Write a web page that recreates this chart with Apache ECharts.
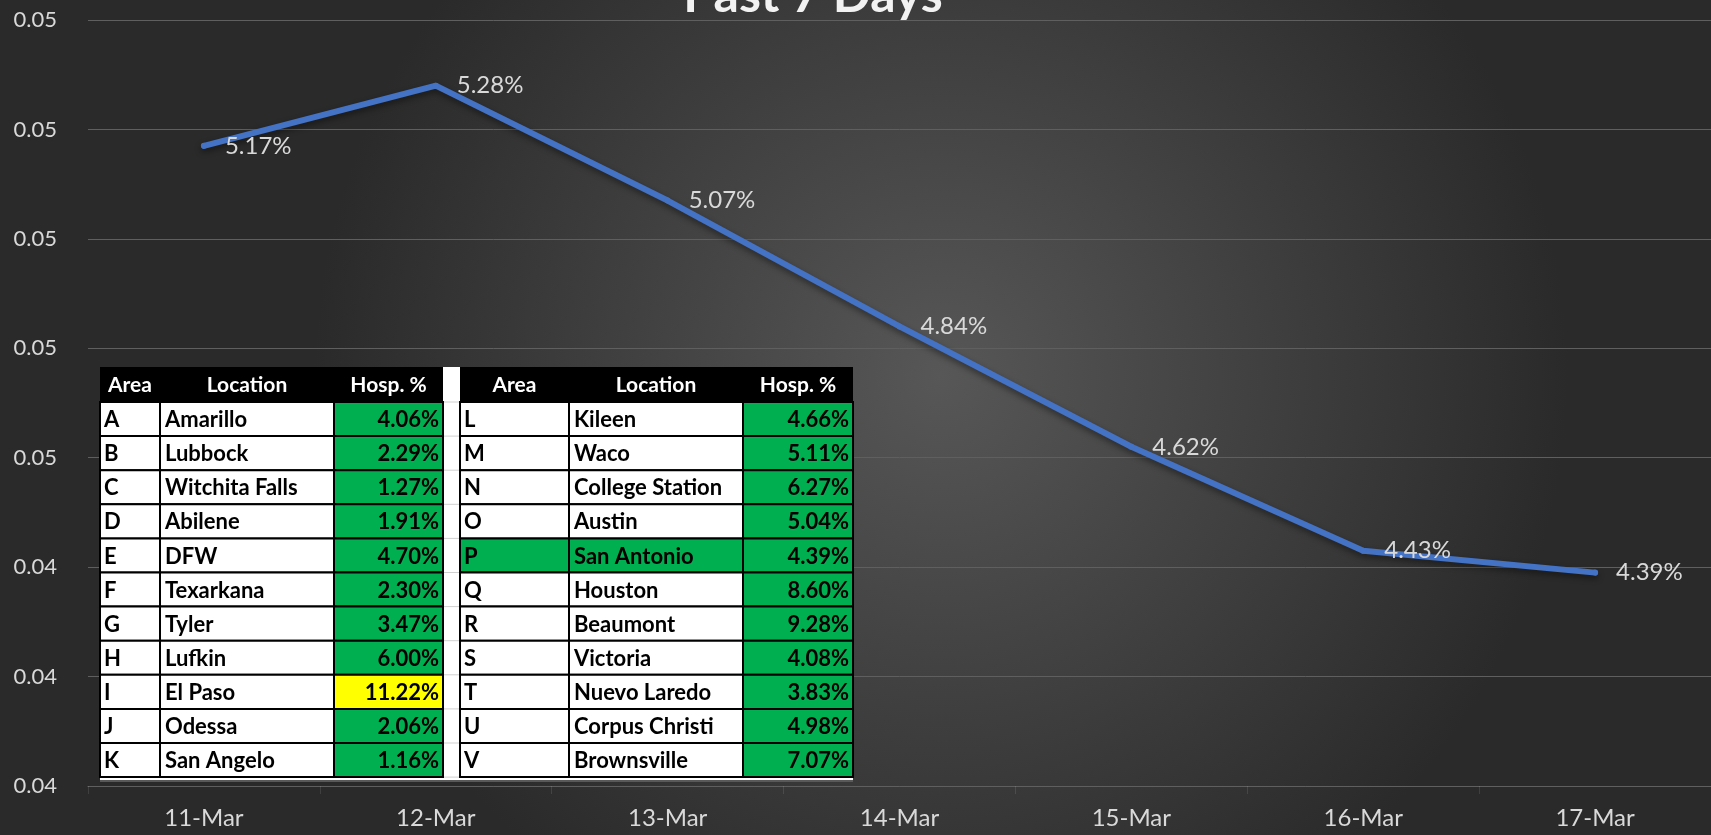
<!DOCTYPE html>
<html>
<head>
<meta charset="utf-8">
<script src="https://cdn.jsdelivr.net/npm/echarts@6/dist/echarts.min.js"></script>
<style>
html, body { margin: 0; padding: 0; background: #2a2a2a; }
#main { width: 1711px; height: 835px; }
</style>
</head>
<body>
<div id="main"></div>
<script>
// chart data
const days = ['11-Mar', '12-Mar', '13-Mar', '14-Mar', '15-Mar', '16-Mar', '17-Mar'];
const hospRate = [0.0517, 0.0528, 0.0507, 0.0484, 0.0462, 0.0443, 0.0439];
const yMin = 0.04, yMax = 0.054, yStep = 0.002;

// table data
const tableHeader = ['Area', 'Location', 'Hosp. %'];
const leftAreas = ['A', 'B', 'C', 'D', 'E', 'F', 'G', 'H', 'I', 'J', 'K'];
const leftLocations = ['Amarillo', 'Lubbock', 'Witchita Falls', 'Abilene', 'DFW', 'Texarkana', 'Tyler', 'Lufkin', 'El Paso', 'Odessa', 'San Angelo'];
const leftPct = [4.06, 2.29, 1.27, 1.91, 4.70, 2.30, 3.47, 6.00, 11.22, 2.06, 1.16];
const rightAreas = ['L', 'M', 'N', 'O', 'P', 'Q', 'R', 'S', 'T', 'U', 'V'];
const rightLocations = ['Kileen', 'Waco', 'College Station', 'Austin', 'San Antonio', 'Houston', 'Beaumont', 'Victoria', 'Nuevo Laredo', 'Corpus Christi', 'Brownsville'];
const rightPct = [4.66, 5.11, 6.27, 5.04, 4.39, 8.60, 9.28, 4.08, 3.83, 4.98, 7.07];
const highlightLocation = 'San Antonio';
const alertLevel = 10;

const FONT = 'Lato, "Liberation Sans", sans-serif';
const GREEN = '#00B050';
const YELLOW = '#FFFF00';

// table layout
const tTop = 367, headH = 35, rowH = 34.1;

function buildTable(x0, widths, areas, locs, pcts) {
  const els = [];
  const xs = [x0, x0 + widths[0], x0 + widths[0] + widths[1]];
  const total = widths[0] + widths[1] + widths[2];
  els.push({ type: 'rect', shape: { x: x0, y: tTop, width: total, height: headH }, style: { fill: '#000' } });
  tableHeader.forEach((h, i) => {
    els.push({ type: 'text', style: { text: h, x: xs[i] + widths[i] / 2, y: tTop + headH / 2 + 1, align: 'center', verticalAlign: 'middle', fill: '#fff', font: 'bold 21px ' + FONT } });
  });
  areas.forEach((a, r) => {
    const y = tTop + headH + r * rowH;
    const hl = locs[r] === highlightLocation;
    const fills = [hl ? GREEN : '#fff', hl ? GREEN : '#fff', pcts[r] >= alertLevel ? YELLOW : GREEN];
    for (let c = 0; c < 3; c++) {
      els.push({ type: 'rect', shape: { x: xs[c], y: y, width: widths[c], height: rowH }, style: { fill: fills[c], stroke: '#000', lineWidth: 2 } });
    }
    const ty = y + rowH / 2 + 1;
    const f = 'bold 22px ' + FONT;
    els.push({ type: 'text', style: { text: a, x: xs[0] + 4, y: ty, align: 'left', verticalAlign: 'middle', fill: '#000', font: f } });
    els.push({ type: 'text', style: { text: locs[r], x: xs[1] + 5, y: ty, align: 'left', verticalAlign: 'middle', fill: '#000', font: f } });
    els.push({ type: 'text', style: { text: pcts[r].toFixed(2) + '%', x: xs[2] + widths[2] - 4, y: ty, align: 'right', verticalAlign: 'middle', fill: '#000', font: f } });
  });
  return els;
}

const tableEls = [];
// white sheet behind both tables
tableEls.push({ type: 'rect', shape: { x: 100, y: tTop, width: 753, height: headH + rowH * 11 + 5 }, style: { fill: '#fff' } });
for (let r = 0; r <= 11; r++) {
  const y = tTop + headH + r * rowH;
  tableEls.push({ type: 'line', shape: { x1: 443, y1: y, x2: 460, y2: y }, style: { stroke: '#cfcfcf', lineWidth: 1 } });
}
tableEls.push(...buildTable(100, [60, 174, 109], leftAreas, leftLocations, leftPct));
tableEls.push(...buildTable(460, [109, 174, 110], rightAreas, rightLocations, rightPct));
tableEls.push({ type: 'line', shape: { x1: 100, y1: tTop + headH + rowH * 11 + 4, x2: 853, y2: tTop + headH + rowH * 11 + 4 }, style: { stroke: '#222', lineWidth: 1.5 } });

const chart = echarts.init(document.getElementById('main'));
chart.setOption({
  backgroundColor: {
    type: 'radial', x: 0.55, y: 0.45, r: 0.75,
    colorStops: [{ offset: 0, color: '#575757' }, { offset: 1, color: '#2a2a2a' }]
  },
  title: {
    text: 'Past 7 Days',
    left: 808, top: -34, textAlign: 'center',
    textStyle: { color: '#f2f2f2', fontSize: 50, fontWeight: 'bold', fontFamily: FONT }
  },
  grid: { left: 88, right: 0, top: 20, bottom: 49, outerBoundsMode: 'none' },
  xAxis: {
    type: 'category',
    data: days,
    boundaryGap: true,
    axisLine: { show: true, lineStyle: { color: '#5f5f5f', width: 1 } },
    axisTick: { show: true, length: 8, lineStyle: { color: 'rgba(255,255,255,0.1)' } },
    axisLabel: { color: '#d9d9d9', fontSize: 24, fontFamily: FONT, margin: 20 }
  },
  yAxis: {
    type: 'value',
    min: yMin, max: yMax, interval: yStep,
    axisLine: { show: false },
    axisTick: { show: false },
    axisLabel: { color: '#d9d9d9', fontSize: 22, fontFamily: FONT, margin: 31, formatter: v => v.toFixed(2) },
    splitLine: { lineStyle: { color: '#5f5f5f', width: 1 } }
  },
  series: [{
    type: 'line',
    data: hospRate,
    symbol: 'circle',
    symbolSize: 6,
    itemStyle: { color: '#4472C4' },
    lineStyle: { color: '#4472C4', width: 6, cap: 'round', join: 'round', shadowColor: 'rgba(0,0,0,0.45)', shadowBlur: 6, shadowOffsetY: 3 },
    label: {
      show: true, position: 'right', distance: 18,
      color: '#d9d9d9', fontSize: 24, fontFamily: FONT,
      formatter: p => (p.value * 100).toFixed(2) + '%'
    },
    z: 3
  }],
  graphic: { elements: tableEls.map(e => Object.assign({ z: 100 }, e)) }
});
</script>
</body>
</html>
